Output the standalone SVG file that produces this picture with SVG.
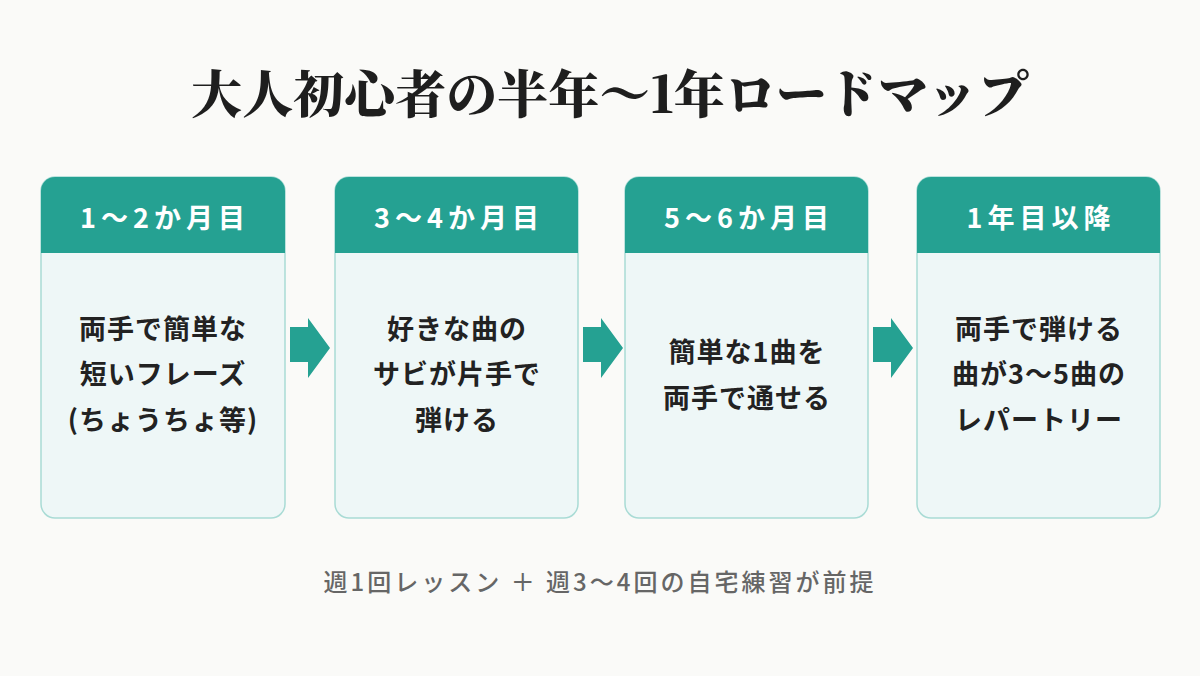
<svg xmlns="http://www.w3.org/2000/svg" width="1200" height="676" viewBox="0 0 1200 676">
<style>
.card{fill:#eef7f7;stroke:#a9dbd5;stroke-width:1.5}
.hd{fill:#25a192}
.ht{font-family:"Noto Sans CJK JP",sans-serif;font-weight:700;font-size:27px;fill:#fff;text-anchor:middle;letter-spacing:5px}
.bt{font-family:"Noto Sans CJK JP",sans-serif;font-weight:700;font-size:27px;fill:#222;text-anchor:middle;letter-spacing:1px}
.ar{fill:#25a192}
</style>
<rect width="1200" height="676" fill="#fafaf8"/>
<text x="610" y="113" text-anchor="middle" font-family="Noto Serif CJK JP,Noto Sans CJK JP,serif" font-weight="900" font-size="51" fill="#1e1e1e">大人初心者の半年〜1年ロードマップ</text>
<g id="node1">
<rect class="card" x="41" y="177" width="244" height="341" rx="14"/>
<path class="hd" d="M41,253V191a14,14 0 0 1 14,-14H271a14,14 0 0 1 14,14V253Z"/>
<text class="ht" x="165" y="228">1〜2か月目</text>
<text class="bt" x="163" y="339">両手で簡単な</text>
<text class="bt" x="163" y="384">短いフレーズ</text>
<text class="bt" x="163" y="430">(ちょうちょ等)</text>
</g>
<g id="node2">
<rect class="card" x="335" y="177" width="243" height="341" rx="14"/>
<path class="hd" d="M335,253V191a14,14 0 0 1 14,-14H564a14,14 0 0 1 14,14V253Z"/>
<text class="ht" x="459" y="228">3〜4か月目</text>
<text class="bt" x="457" y="339">好きな曲の</text>
<text class="bt" x="457" y="384">サビが片手で</text>
<text class="bt" x="457" y="430">弾ける</text>
</g>
<g id="node3">
<rect class="card" x="625" y="177" width="243" height="341" rx="14"/>
<path class="hd" d="M625,253V191a14,14 0 0 1 14,-14H854a14,14 0 0 1 14,14V253Z"/>
<text class="ht" x="749" y="228">5〜6か月目</text>
<text class="bt" x="747" y="362">簡単な1曲を</text>
<text class="bt" x="747" y="408">両手で通せる</text>
</g>
<g id="node4">
<rect class="card" x="917" y="177" width="243" height="341" rx="14"/>
<path class="hd" d="M917,253V191a14,14 0 0 1 14,-14H1146a14,14 0 0 1 14,14V253Z"/>
<text class="ht" x="1041" y="228">1年目以降</text>
<text class="bt" x="1039" y="339">両手で弾ける</text>
<text class="bt" x="1039" y="384">曲が3〜5曲の</text>
<text class="bt" x="1039" y="430">レパートリー</text>
</g>
<g id="connectors">
<path class="ar" d="M290,327H308V318L330,348L308,378V362H290Z"/>
<path class="ar" d="M583,327H601V318L623,348L601,378V362H583Z"/>
<path class="ar" d="M873,327H891V318L913,348L891,378V362H873Z"/>
</g>
<text x="600" y="591" text-anchor="middle" font-family="Noto Sans CJK JP,sans-serif" font-weight="500" font-size="24" fill="#666" letter-spacing="3">週1回レッスン ＋ 週3〜4回の自宅練習が前提</text>
</svg>
